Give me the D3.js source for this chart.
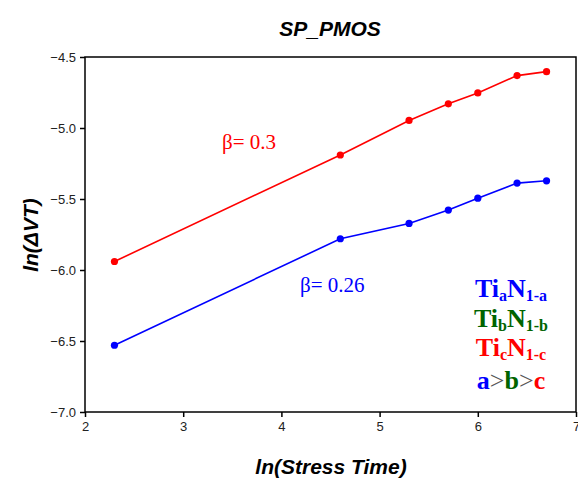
<!DOCTYPE html>
<html>
<head>
<meta charset="utf-8">
<script src="https://cdn.jsdelivr.net/npm/d3@7"></script>
<style>
html,body{margin:0;padding:0;background:#fff;}
svg{display:block;}
</style>
</head>
<body>
<svg id="chart" width="578" height="479"></svg>
<script>
const lnTime = [2.3, 4.6, 5.3, 5.7, 6.0, 6.4, 6.7];
const seriesRed = [-5.94, -5.19, -4.947, -4.83, -4.753, -4.631, -4.603];
const seriesBlue = [-6.53, -5.78, -5.672, -5.578, -5.494, -5.388, -5.372];
const xTicks = [2, 3, 4, 5, 6, 7];
const yTicks = [-7.0, -6.5, -6.0, -5.5, -5.0, -4.5];

const svg = d3.select("#chart");
const m = {left: 85, right: 576, top: 57, bottom: 412};
const x = d3.scaleLinear().domain([2, 7]).range([m.left, m.right]);
const y = d3.scaleLinear().domain([-7, -4.5]).range([m.bottom, m.top]);

// axes
const xAxis = svg.append("g").attr("transform", `translate(0,${m.bottom})`)
  .call(d3.axisBottom(x).tickValues(xTicks).tickFormat(d3.format("d")).tickSize(5).tickPadding(5));
const yAxis = svg.append("g").attr("transform", `translate(${m.left},0)`)
  .call(d3.axisLeft(y).tickValues(yTicks).tickFormat(d3.format(".1f")).tickSize(5).tickPadding(4));
[xAxis, yAxis].forEach(a => {
  a.select(".domain").remove();
  a.selectAll(".tick line").attr("stroke", "#000").attr("stroke-width", 1.5);
  a.selectAll(".tick text").attr("font-family", "Liberation Sans, Arial, sans-serif")
    .attr("font-size", 13).attr("fill", "#222");
});
// frame
svg.append("rect").attr("x", m.left).attr("y", m.top)
  .attr("width", m.right - m.left).attr("height", m.bottom - m.top)
  .attr("fill", "none").attr("stroke", "#000").attr("stroke-width", 1.5);

function drawSeries(vals, color) {
  const pts = lnTime.map((t, i) => [t, vals[i]]);
  svg.append("path").datum(pts)
    .attr("fill", "none").attr("stroke", color).attr("stroke-width", 1.6)
    .attr("d", d3.line().x(d => x(d[0])).y(d => y(d[1])));
  svg.append("g").selectAll("circle").data(pts).join("circle")
    .attr("cx", d => x(d[0])).attr("cy", d => y(d[1])).attr("r", 3.6).attr("fill", color);
}
drawSeries(seriesRed, "#ff0000");
drawSeries(seriesBlue, "#0000ff");

// titles
svg.append("text").attr("x", 330).attr("y", 36).attr("text-anchor", "middle")
  .attr("font-family", "Liberation Sans, Arial, sans-serif").attr("font-weight", "bold")
  .attr("font-style", "italic").attr("font-size", 21).text("SP_PMOS");
svg.append("text").attr("x", 331).attr("y", 474).attr("text-anchor", "middle")
  .attr("font-family", "Liberation Sans, Arial, sans-serif").attr("font-weight", "bold")
  .attr("font-style", "italic").attr("font-size", 21).text("ln(Stress Time)");
svg.append("text").attr("transform", "translate(38,235) rotate(-90)").attr("text-anchor", "middle")
  .attr("font-family", "Liberation Sans, Arial, sans-serif").attr("font-weight", "bold")
  .attr("font-style", "italic").attr("font-size", 21).text("ln(\u0394VT)");

// beta annotations
svg.append("text").attr("x", 222).attr("y", 149)
  .attr("font-family", "Liberation Serif, Times New Roman, serif").attr("font-size", 21)
  .attr("fill", "#ff0000").text("\u03b2= 0.3");
svg.append("text").attr("x", 300).attr("y", 292)
  .attr("font-family", "Liberation Serif, Times New Roman, serif").attr("font-size", 21)
  .attr("fill", "#0000ff").text("\u03b2= 0.26");

// composition legend
const legend = [
  {color: "#0000ff", parts: [["Ti", 0], ["a", 1], ["N", 0], ["1-a", 1]], yb: 297},
  {color: "#006400", parts: [["Ti", 0], ["b", 1], ["N", 0], ["1-b", 1]], yb: 327},
  {color: "#ff0000", parts: [["Ti", 0], ["c", 1], ["N", 0], ["1-c", 1]], yb: 356},
];
legend.forEach(l => {
  const t = svg.append("text").attr("x", 511).attr("y", l.yb).attr("text-anchor", "middle")
    .attr("font-family", "Liberation Serif, Times New Roman, serif").attr("font-weight", "bold")
    .attr("font-size", 26).attr("fill", l.color);
  l.parts.forEach(([s, sub]) => {
    t.append("tspan").attr("font-size", sub ? 16 : 26)
      .attr("baseline-shift", sub ? "-4" : "0").text(s);
  });
});
const cmp = svg.append("text").attr("x", 511).attr("y", 389).attr("text-anchor", "middle")
  .attr("font-family", "Liberation Serif, Times New Roman, serif").attr("font-weight", "bold")
  .attr("font-size", 26);
[["a", "#0000ff"], [">", "#555555"], ["b", "#006400"], [">", "#555555"], ["c", "#ff0000"]]
  .forEach(([s, c]) => cmp.append("tspan").attr("fill", c).attr("font-weight", s === ">" ? "normal" : "bold").text(s));
</script>
</body>
</html>
